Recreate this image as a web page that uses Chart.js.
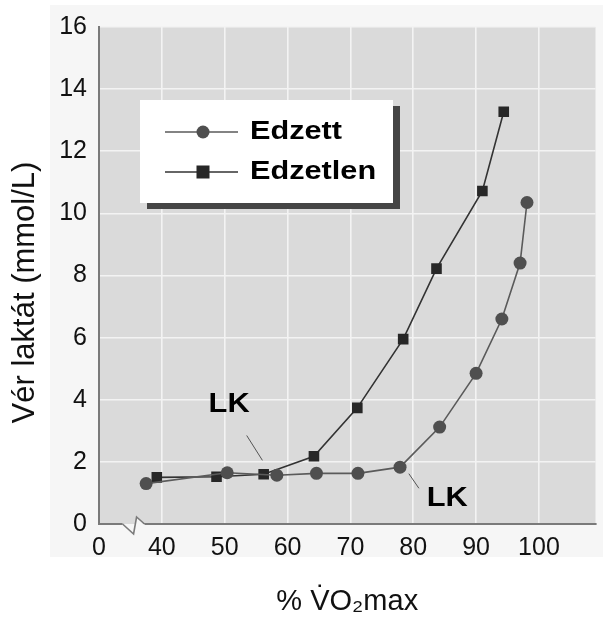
<!DOCTYPE html>
<html lang="hu">
<head>
<meta charset="UTF-8">
<title>Vér laktát</title>
<script src="https://cdn.jsdelivr.net/npm/chart.js"></script>
<style>
  html, body { margin: 0; padding: 0; background: #fff; }
  #wrap { width: 603px; height: 619px; }
</style>
</head>
<body>
<div id="wrap"><canvas id="chart"></canvas></div>
<script>
// data
const trainedX = [37.5, 50.4, 58.3, 64.6, 71.2, 77.9, 84.2, 90.0, 94.1, 97.0, 98.1];
const trainedY = [1.3, 1.65, 1.57, 1.63, 1.63, 1.83, 3.12, 4.85, 6.6, 8.4, 10.35];
const untrainedX = [39.2, 48.7, 56.2, 64.2, 71.1, 78.4, 83.7, 91.0, 94.4];
const untrainedY = [1.5, 1.52, 1.6, 2.18, 3.74, 5.95, 8.22, 10.72, 13.27];
const seriesNames = ['Edzett', 'Edzetlen'];
const xTicks = [30, 40, 50, 60, 70, 80, 90, 100];   // 30 is the broken-axis "0"
const yTicks = [0, 2, 4, 6, 8, 10, 12, 14, 16];
const yTitle = 'Vér laktát (mmol/L)';
const xTitle = '% V\u0307O\u2082max';
// LK labels: [text x, text y, leader from x, y, leader to x, y]
const lkNotes = [
  [50.7, 3.85, 53.5, 2.85, 56.0, 2.05],
  [85.4, 0.83, 79.3, 1.62, 80.9, 1.15]
];

const FONT = "'Liberation Sans', Arial, sans-serif";
const PLOT_BG = '#dadada';
const PANEL_BG = '#f6f6f6';

function toPoints(xs, ys) { return xs.map((x, i) => ({ x, y: ys[i] })); }

function stretchedText(ctx, text, x, y, font, sx, align) {
  ctx.save();
  ctx.font = font;
  ctx.textBaseline = 'middle';
  ctx.textAlign = align || 'left';
  ctx.translate(x, y);
  ctx.scale(sx, 1);
  ctx.fillText(text, 0, 0);
  ctx.restore();
}

const panelBg = {
  id: 'panelBg',
  beforeDraw(chart) {
    const { ctx, chartArea: a } = chart;
    ctx.save();
    ctx.fillStyle = PANEL_BG;
    ctx.fillRect(50, 5, chart.width - 50, 552);
    ctx.fillStyle = PLOT_BG;
    ctx.fillRect(a.left, a.top, a.right - a.left, a.bottom - a.top);
    ctx.restore();
  }
};

const extras = {
  id: 'extras',
  afterDraw(chart) {
    const { ctx, chartArea: a, scales: { x, y } } = chart;
    ctx.save();

    // y axis title
    ctx.translate(25, (a.top + a.bottom) / 2 + 17);
    ctx.rotate(-Math.PI / 2);
    ctx.fillStyle = '#111';
    ctx.font = '31px ' + FONT;
    ctx.textAlign = 'center';
    ctx.textBaseline = 'middle';
    ctx.fillText(yTitle, 0, 0);
    ctx.setTransform(1, 0, 0, 1, 0, 0);

    // axis break mark
    const bx = x.getPixelForValue(35.5), by = a.bottom;
    ctx.fillStyle = PLOT_BG;
    ctx.fillRect(bx - 11, by - 1.5, 14, 1.5);
    ctx.fillStyle = PANEL_BG;
    ctx.fillRect(bx - 11, by, 22, 1.6);
    ctx.beginPath();
    ctx.moveTo(bx + 3, by - 7);
    ctx.lineTo(bx + 10, by);
    ctx.lineTo(bx + 2, by);
    ctx.closePath();
    ctx.fill();
    ctx.strokeStyle = '#7a7a7a';
    ctx.lineWidth = 1.6;
    ctx.beginPath();
    ctx.moveTo(bx - 11, by);
    ctx.lineTo(bx, by + 10);
    ctx.lineTo(bx + 3, by - 7);
    ctx.lineTo(bx + 11, by);
    ctx.stroke();

    // LK notes
    ctx.fillStyle = '#000';
    lkNotes.forEach(n => {
      stretchedText(ctx, 'LK', x.getPixelForValue(n[0]), y.getPixelForValue(n[1]),
        'bold 28px ' + FONT, 1.1, 'center');
      ctx.strokeStyle = '#555';
      ctx.lineWidth = 1;
      ctx.beginPath();
      ctx.moveTo(x.getPixelForValue(n[2]), y.getPixelForValue(n[3]));
      ctx.lineTo(x.getPixelForValue(n[4]), y.getPixelForValue(n[5]));
      ctx.stroke();
    });

    // legend box
    const lx = a.left + 41, ly = a.top + 73, lw = 253, lh = 103;
    ctx.fillStyle = '#454545';
    ctx.fillRect(lx + 7, ly + 6, lw, lh);
    ctx.fillStyle = '#fff';
    ctx.fillRect(lx, ly, lw, lh);
    chart.data.datasets.forEach((ds, i) => {
      const cy = ly + 32 + i * 40;
      ctx.strokeStyle = ds.borderColor;
      ctx.lineWidth = 1.5;
      ctx.beginPath();
      ctx.moveTo(lx + 25, cy);
      ctx.lineTo(lx + 98, cy);
      ctx.stroke();
      ctx.fillStyle = ds.pointBackgroundColor;
      if (ds.pointStyle === 'rect') {
        ctx.fillRect(lx + 63 - 6.5, cy - 6.5, 13, 13);
      } else {
        ctx.beginPath();
        ctx.arc(lx + 63, cy, 6.5, 0, Math.PI * 2);
        ctx.fill();
      }
      ctx.fillStyle = '#000';
      stretchedText(ctx, ds.label, lx + 110, cy, 'bold 26px ' + FONT, 1.18);
    });
    ctx.restore();
  }
};

new Chart(document.getElementById('chart'), {
  type: 'scatter',
  data: {
    datasets: [
      {
        label: seriesNames[0],
        data: toPoints(trainedX, trainedY),
        showLine: true,
        borderColor: '#5a5a5a',
        borderWidth: 1.6,
        pointStyle: 'circle',
        pointRadius: 6.5,
        pointBackgroundColor: '#4f4f4f',
        pointBorderWidth: 0
      },
      {
        label: seriesNames[1],
        data: toPoints(untrainedX, untrainedY),
        showLine: true,
        borderColor: '#333333',
        borderWidth: 1.6,
        pointStyle: 'rect',
        pointRadius: 7.5,
        pointBackgroundColor: '#272727',
        pointBorderWidth: 0
      }
    ]
  },
  options: {
    responsive: true,
    maintainAspectRatio: false,
    animation: false,
    layout: { padding: { top: 19, right: 0, left: 0, bottom: 0 } },
    plugins: { legend: { display: false }, tooltip: { enabled: false } },
    scales: {
      x: {
        type: 'linear',
        min: 30,
        max: 109,
        afterFit: s => { s.height = 95; },
        afterBuildTicks: s => { s.ticks = xTicks.map(v => ({ value: v })); },
        ticks: {
          includeBounds: false,
          padding: 9,
          color: '#111',
          font: { family: FONT, size: 25 },
          callback: v => (v === 30 ? '0' : v)
        },
        grid: { color: '#f3f3f3', lineWidth: 1.6, drawTicks: false },
        border: { color: '#7a7a7a', width: 2 },
        title: {
          display: true,
          text: xTitle,
          color: '#111',
          font: { family: FONT, size: 29 },
          padding: { top: 0, bottom: 0 }
        }
      },
      y: {
        min: 0,
        max: 16,
        afterFit: s => { s.width = 99; },
        afterBuildTicks: s => { s.ticks = yTicks.map(v => ({ value: v })); },
        ticks: {
          padding: 12,
          color: '#111',
          font: { family: FONT, size: 25 }
        },
        grid: { color: '#f3f3f3', lineWidth: 1.6, drawTicks: false },
        border: { color: '#7a7a7a', width: 2 },
        title: { display: false }
      }
    }
  },
  plugins: [panelBg, extras]
});
</script>
</body>
</html>
